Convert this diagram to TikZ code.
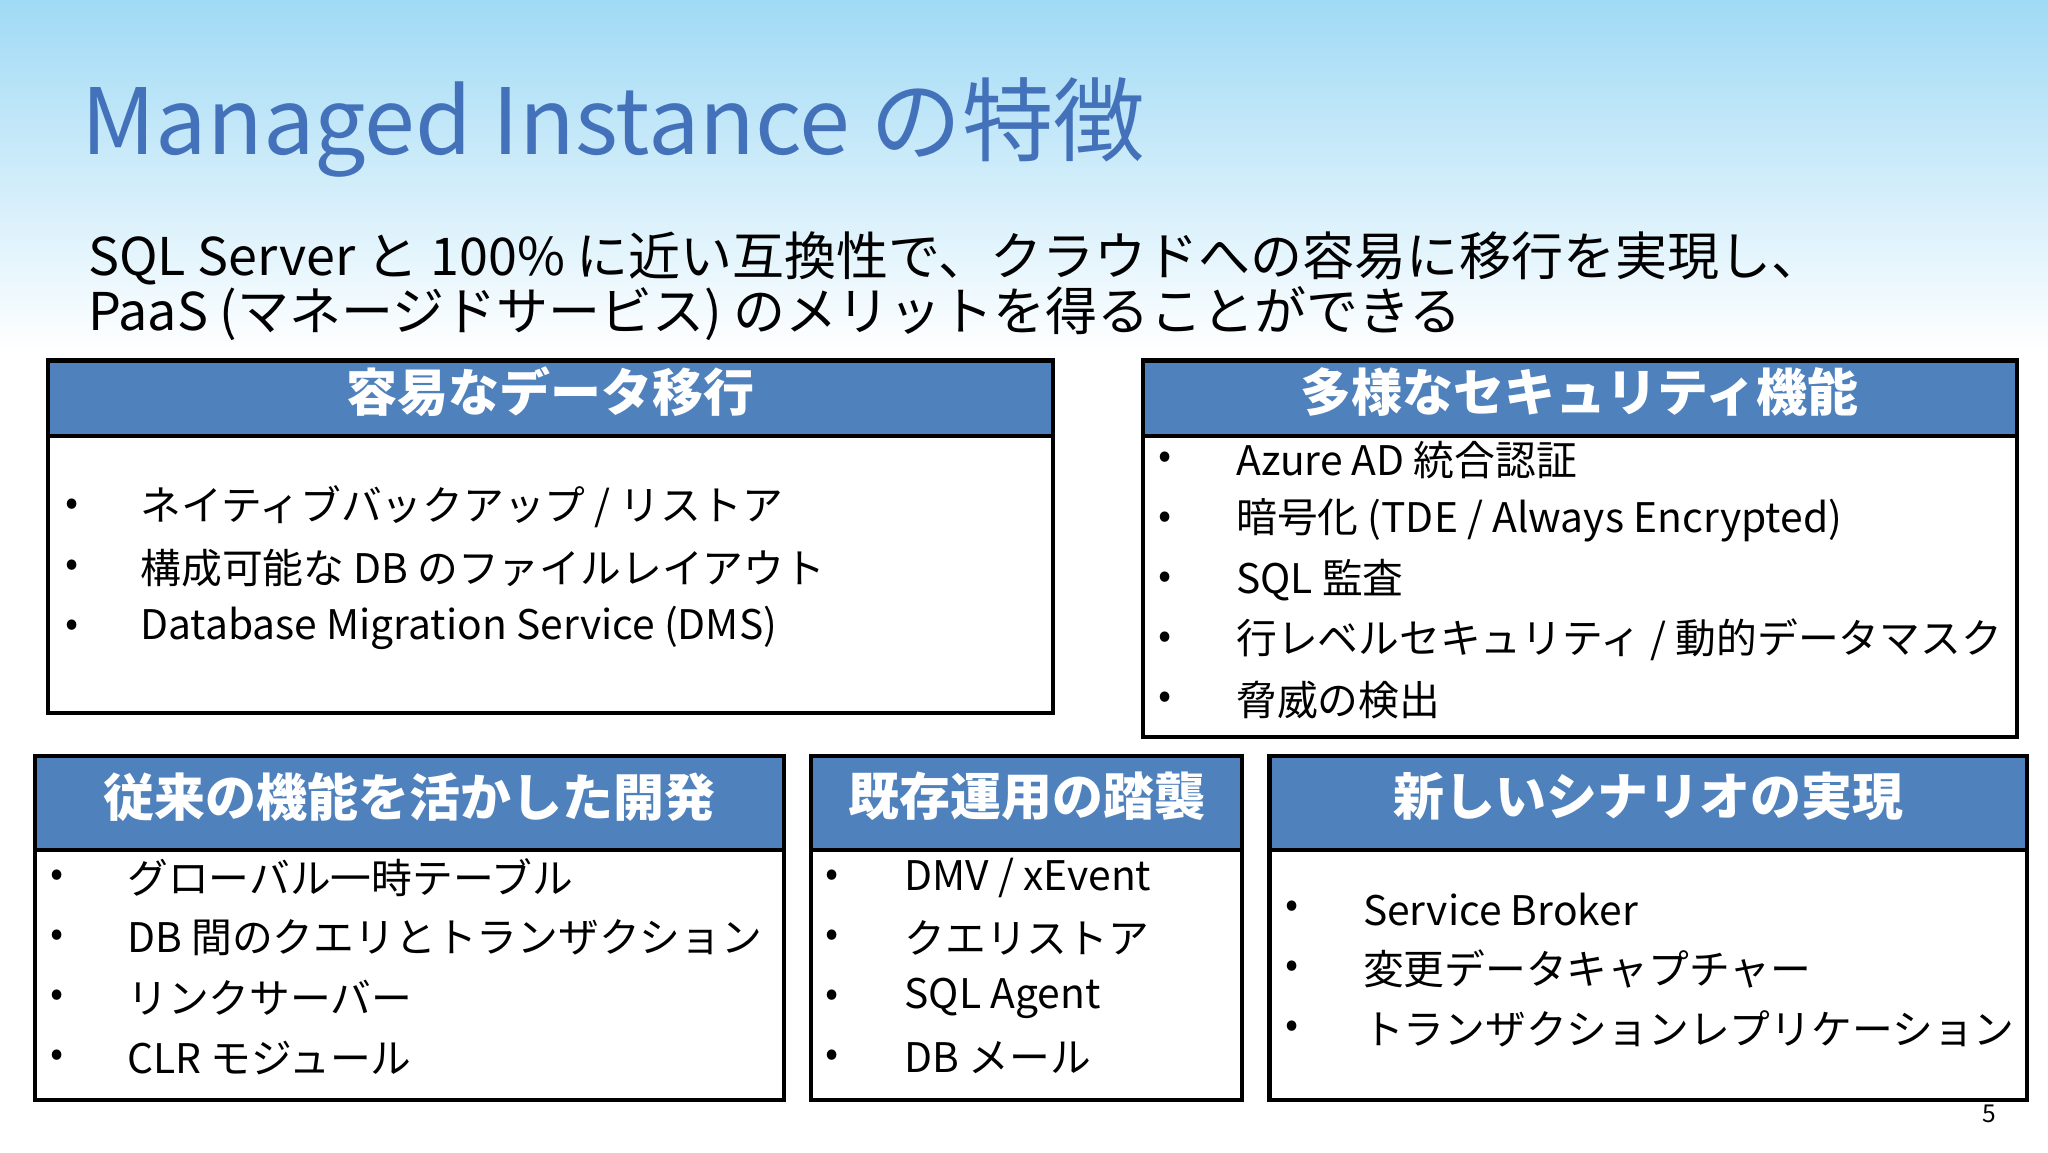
\documentclass[tikz,border=0pt]{standalone}
\usepackage{fontspec}
\setmainfont{Noto Sans CJK JP}
\definecolor{head1}{RGB}{79, 129, 189}
\definecolor{title1}{RGB}{68, 114, 186}
\definecolor{sky1}{RGB}{160, 218, 245}
\tikzset{
  box/.style={draw=black, line width=1.2pt},
  headbox/.style={draw=black, fill=head1, line width=1.2pt},
  headtext/.style={text=white, font=\fontsize{14.5}{18}\selectfont\bfseries},
  item/.style={anchor=west, inner sep=0pt, font=\fontsize{11.6}{14}\selectfont},
  dot/.style={anchor=center, inner sep=0pt, font=\fontsize{11}{13}\selectfont}
}
\begin{document}
\begin{tikzpicture}[x=0.1306mm, y=-0.1306mm]
  \useasboundingbox (0,0) rectangle (1568,882);
  \shade[top color=sky1, bottom color=white] (0,0) rectangle (1568,270);
  \fill[white] (0,270) rectangle (1568,882);

  % title
  \node[anchor=base west, inner sep=0pt, text=title1, font=\fontsize{26}{30}\selectfont] (title) at (62,118) {Managed Instance の特徴};
  \node[anchor=base west, inner sep=0pt, font=\fontsize{14.8}{18}\selectfont] (sub1) at (67,211) {SQL Server と 100\% に近い互換性で、クラウドへの容易に移行を実現し、};
  \node[anchor=base west, inner sep=0pt, font=\fontsize{14.8}{18}\selectfont] (sub2) at (67,253) {PaaS (マネージドサービス) のメリットを得ることができる};

  % boxes
  \foreach \nm/\xa/\ya/\xb/\yh/\yb/\txt in {
      b1/37/276/806/334/546/容易なデータ移行,
      b2/875/276/1544/334/564/多様なセキュリティ機能,
      b3/27/579/600/651/842/従来の機能を活かした開発,
      b4/621/579/951/651/842/既存運用の踏襲,
      b5/972/579/1552/651/842/新しいシナリオの実現} {
    \draw[box] (\xa,\yh) rectangle (\xb,\yb);
    \draw[headbox] (\xa,\ya) rectangle (\xb,\yh);
    \node[headtext] (\nm) at ({(\xa+\xb)/2},{(\ya+\yh)/2-5}) {\txt};
  }

  % items
  \foreach \bx/\tx/\y/\txt in {
      55/107/388/{ネイティブバックアップ / リストア},
      55/107/435/{構成可能な DB のファイルレイアウト},
      55/107/481/{Database Migration Service (DMS)},
      892/946/352/{Azure AD 統合認証},
      892/946/398/{暗号化 (TDE / Always Encrypted)},
      892/946/444/{SQL 監査},
      892/946/490/{行レベルセキュリティ / 動的データマスク},
      892/946/536/{脅威の検出},
      44/97/672/{グローバル一時テーブル},
      44/97/718/{DB 間のクエリとトランザクション},
      44/97/764/{リンクサーバー},
      44/97/810/{CLR モジュール},
      637/692/672/{DMV / xEvent},
      637/692/718/{クエリストア},
      637/692/764/{SQL Agent},
      637/692/810/{DB メール},
      989/1043/696/{Service Broker},
      989/1043/742/{変更データキャプチャー},
      989/1043/788/{トランザクションレプリケーション}} {
    \node[dot] at (\bx,\y) {•};
    \node[item] at (\tx,\y) {\txt};
  }

  \node[font=\fontsize{7}{8}\selectfont, inner sep=0pt] (page) at (1523,853) {5};
\end{tikzpicture}
\end{document}
